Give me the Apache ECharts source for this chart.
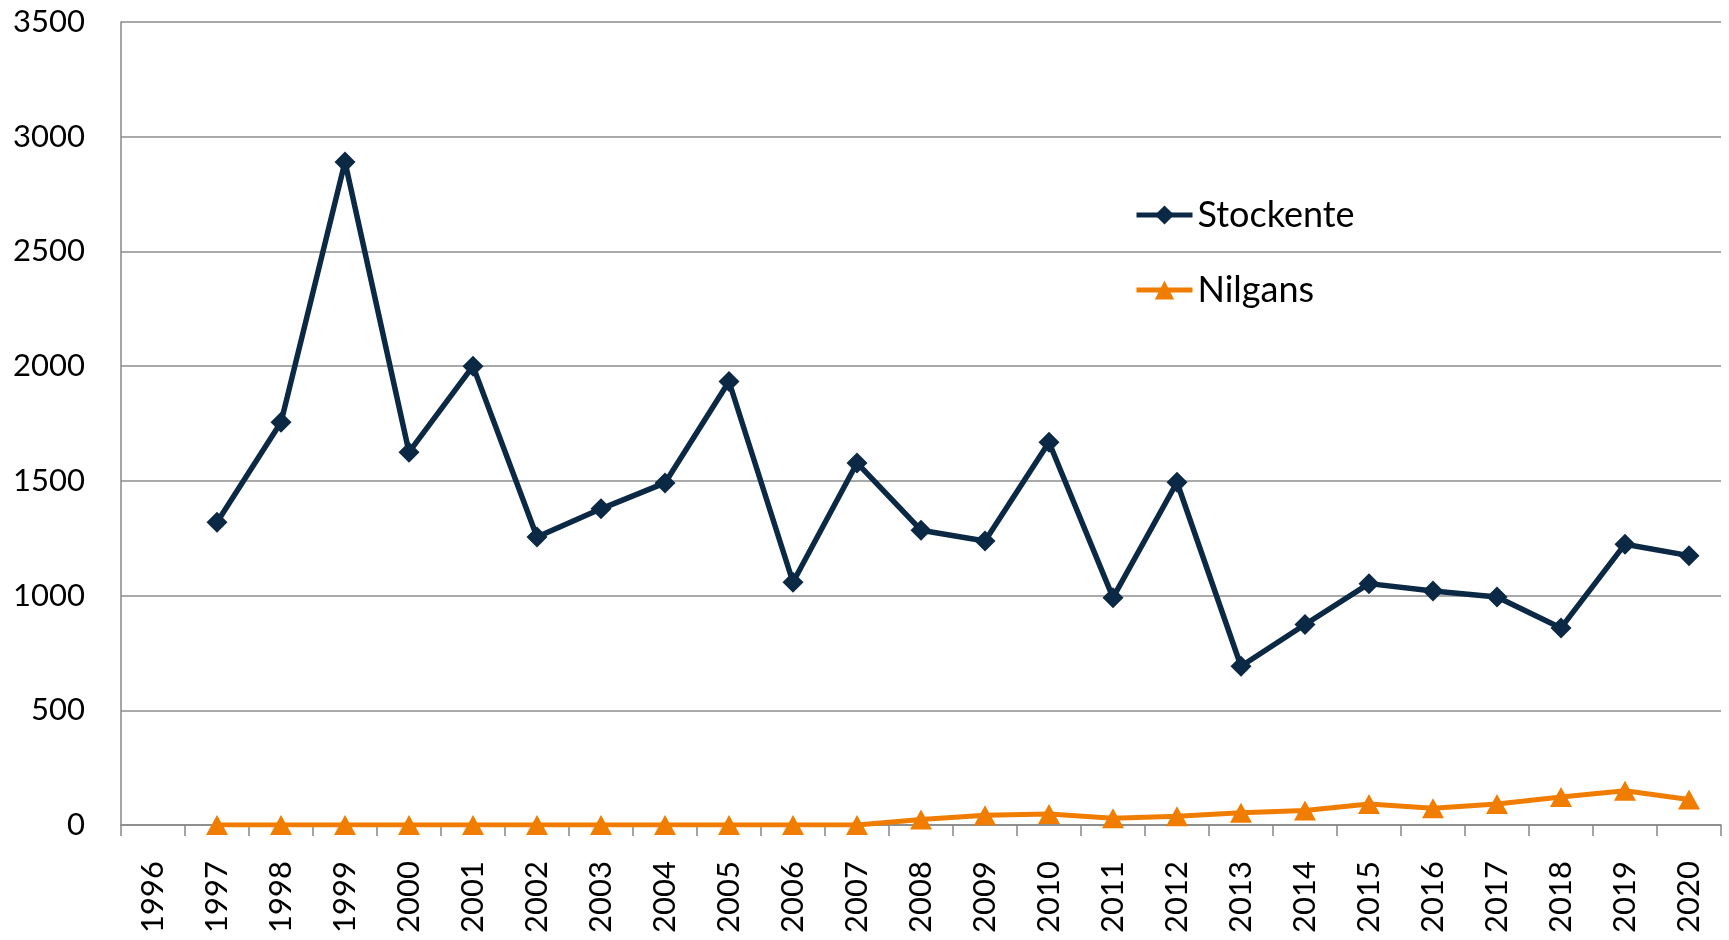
<!DOCTYPE html>
<html>
<head>
<meta charset="utf-8">
<script src="https://cdn.jsdelivr.net/npm/echarts@6/dist/echarts.min.js"></script>
<style>
html,body{margin:0;padding:0;background:#fff;}
#c{width:1729px;height:940px;}
</style>
</head>
<body>
<div id="c"></div>
<script>
const years = ['1996','1997','1998','1999','2000','2001','2002','2003','2004','2005','2006','2007','2008','2009','2010','2011','2012','2013','2014','2015','2016','2017','2018','2019','2020'];
const stockente = [null,1320,1755,2890,1625,2000,1255,1378,1491,1933,1058,1578,1285,1238,1668,991,1494,692,874,1052,1020,994,859,1224,1174];
const nilgans = [null,0,0,0,0,0,0,0,0,0,0,0,24,43,48,29,38,53,63,92,73,92,122,149,111];
const yTicks = {min:0, max:3500, interval:500};

const chart = echarts.init(document.getElementById('c'));
const fontFam = 'Lato, "Open Sans", sans-serif';
chart.setOption({
  animation:false,
  backgroundColor:'#fff',
  grid:{left:121, right:8, top:22, bottom:115, containLabel:false},
  legend:{
    orient:'vertical', left:1129, top:190,
    itemWidth:56, itemHeight:24, itemGap:35,
    textStyle:{fontFamily:fontFam, fontSize:36, color:'#000', lineHeight:40},
    data:[
      {name:'Stockente', lineStyle:{width:5}},
      {name:'Nilgans', lineStyle:{width:5}}
    ]
  },
  xAxis:{
    type:'category', data:years, boundaryGap:true,
    axisLine:{lineStyle:{color:'#878787', width:1.5}},
    axisTick:{show:true, length:11, inside:false, lineStyle:{color:'#878787', width:1.5}},
    axisLabel:{rotate:90, margin:36, fontFamily:fontFam, fontSize:31, color:'#000', interval:0}
  },
  yAxis:{
    type:'value', min:yTicks.min, max:yTicks.max, interval:yTicks.interval,
    axisLine:{show:true, lineStyle:{color:'#878787', width:1.5}},
    axisTick:{show:false},
    splitLine:{show:true, lineStyle:{color:'#8c8c8c', width:1.5}},
    axisLabel:{margin:36, fontFamily:fontFam, fontSize:31, color:'#000', formatter:function(v){return String(v);}}
  },
  series:[
    {name:'Stockente', type:'line', data:stockente, symbol:'diamond', symbolSize:[21,21],
     lineStyle:{color:'#0B2944', width:5.5}, itemStyle:{color:'#0B2944'}, z:3},
    {name:'Nilgans', type:'line', data:nilgans, symbol:'triangle', symbolSize:[22,20],
     lineStyle:{color:'#F07D00', width:5}, itemStyle:{color:'#F07D00'}, z:2}
  ]
});
</script>
</body>
</html>
